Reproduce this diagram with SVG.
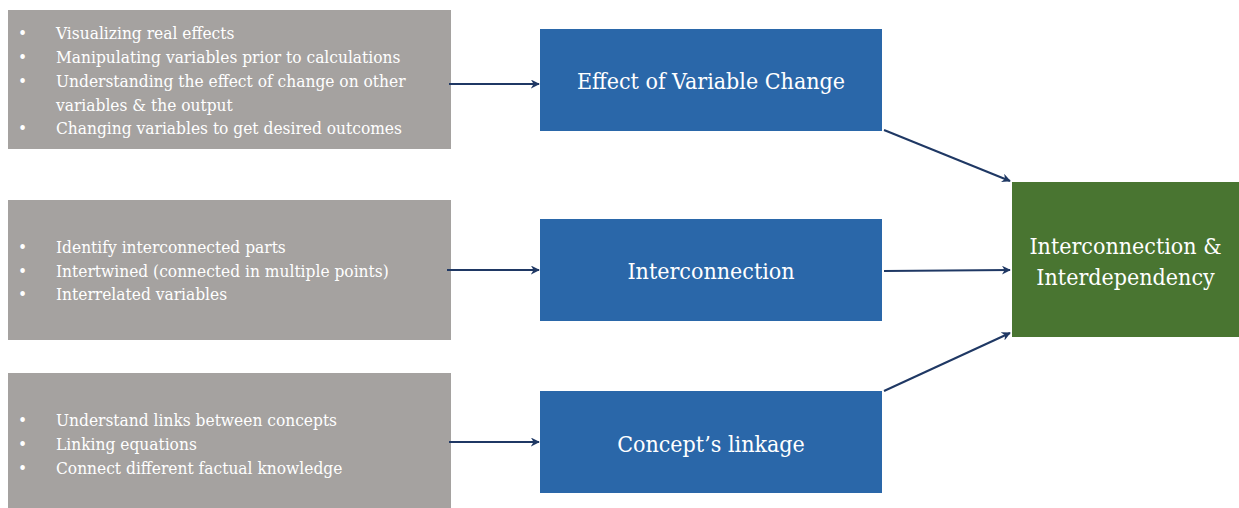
<svg xmlns="http://www.w3.org/2000/svg" width="1239" height="508" viewBox="0 0 1239 508">
  <defs>
    <marker id="arrow" viewBox="0 0 10 10" refX="9" refY="5" markerWidth="9" markerHeight="9" markerUnits="userSpaceOnUse" orient="auto">
      <path d="M0,0 L10,5 L0,10 L3,5 Z" fill="#1F3864"/>
    </marker>
    <style>
      .src { fill: #A5A2A0; }
      .mid { fill: #2A67A9; }
      .out { fill: #497531; }
      .list { font-family: 'DejaVu Serif Condensed', 'DejaVu Serif', serif; font-stretch: condensed; font-size: 17.2px; fill: #FFFFFF; }
      .title { font-family: 'DejaVu Serif Condensed', 'DejaVu Serif', serif; font-stretch: condensed; font-size: 23px; fill: #FFFFFF; text-anchor: middle; }
      .conn { stroke: #1F3864; stroke-width: 2; fill: none; marker-end: url(#arrow); }
    </style>
  </defs>
  <rect width="1239" height="508" fill="#FFFFFF"/>

  <!-- source lists -->
  <g id="list-effect">
    <rect class="src" x="8" y="10" width="443" height="139"/>
    <text class="list">
      <tspan x="18" y="39">•</tspan><tspan x="56" y="39">Visualizing real effects</tspan>
      <tspan x="18" y="63">•</tspan><tspan x="56" y="63">Manipulating variables prior to calculations</tspan>
      <tspan x="18" y="87">•</tspan><tspan x="56" y="87">Understanding the effect of change on other</tspan>
      <tspan x="56" y="111">variables &amp; the output</tspan>
      <tspan x="18" y="134">•</tspan><tspan x="56" y="134">Changing variables to get desired outcomes</tspan>
    </text>
  </g>
  <g id="list-interconnection">
    <rect class="src" x="8" y="200" width="443" height="140"/>
    <text class="list">
      <tspan x="18" y="253">•</tspan><tspan x="56" y="253">Identify interconnected parts</tspan>
      <tspan x="18" y="277">•</tspan><tspan x="56" y="277">Intertwined (connected in multiple points)</tspan>
      <tspan x="18" y="300">•</tspan><tspan x="56" y="300">Interrelated variables</tspan>
    </text>
  </g>
  <g id="list-linkage">
    <rect class="src" x="8" y="373" width="443" height="135"/>
    <text class="list">
      <tspan x="18" y="426">•</tspan><tspan x="56" y="426">Understand links between concepts</tspan>
      <tspan x="18" y="450">•</tspan><tspan x="56" y="450">Linking equations</tspan>
      <tspan x="18" y="474">•</tspan><tspan x="56" y="474">Connect different factual knowledge</tspan>
    </text>
  </g>

  <!-- middle concepts -->
  <g id="node-effect">
    <rect class="mid" x="540" y="29" width="342" height="102"/>
    <text class="title" x="711" y="89">Effect of Variable Change</text>
  </g>
  <g id="node-interconnection">
    <rect class="mid" x="540" y="219" width="342" height="102"/>
    <text class="title" x="711" y="279">Interconnection</text>
  </g>
  <g id="node-linkage">
    <rect class="mid" x="540" y="391" width="342" height="102"/>
    <text class="title" x="711" y="452">Concept’s linkage</text>
  </g>

  <!-- outcome -->
  <g id="node-outcome">
    <rect class="out" x="1012" y="182" width="227" height="155"/>
    <text class="title" x="1125.5" y="254">Interconnection &amp;</text>
    <text class="title" x="1125.5" y="285">Interdependency</text>
  </g>

  <!-- connectors -->
  <g id="connectors">
    <line class="conn" x1="449" y1="84" x2="539" y2="84"/>
    <line class="conn" x1="447" y1="270" x2="539" y2="270"/>
    <line class="conn" x1="449" y1="442" x2="539" y2="442"/>
    <line class="conn" x1="884" y1="130" x2="1010" y2="181"/>
    <line class="conn" x1="884" y1="271" x2="1010" y2="270"/>
    <line class="conn" x1="884" y1="391" x2="1010" y2="333"/>
  </g>
</svg>
